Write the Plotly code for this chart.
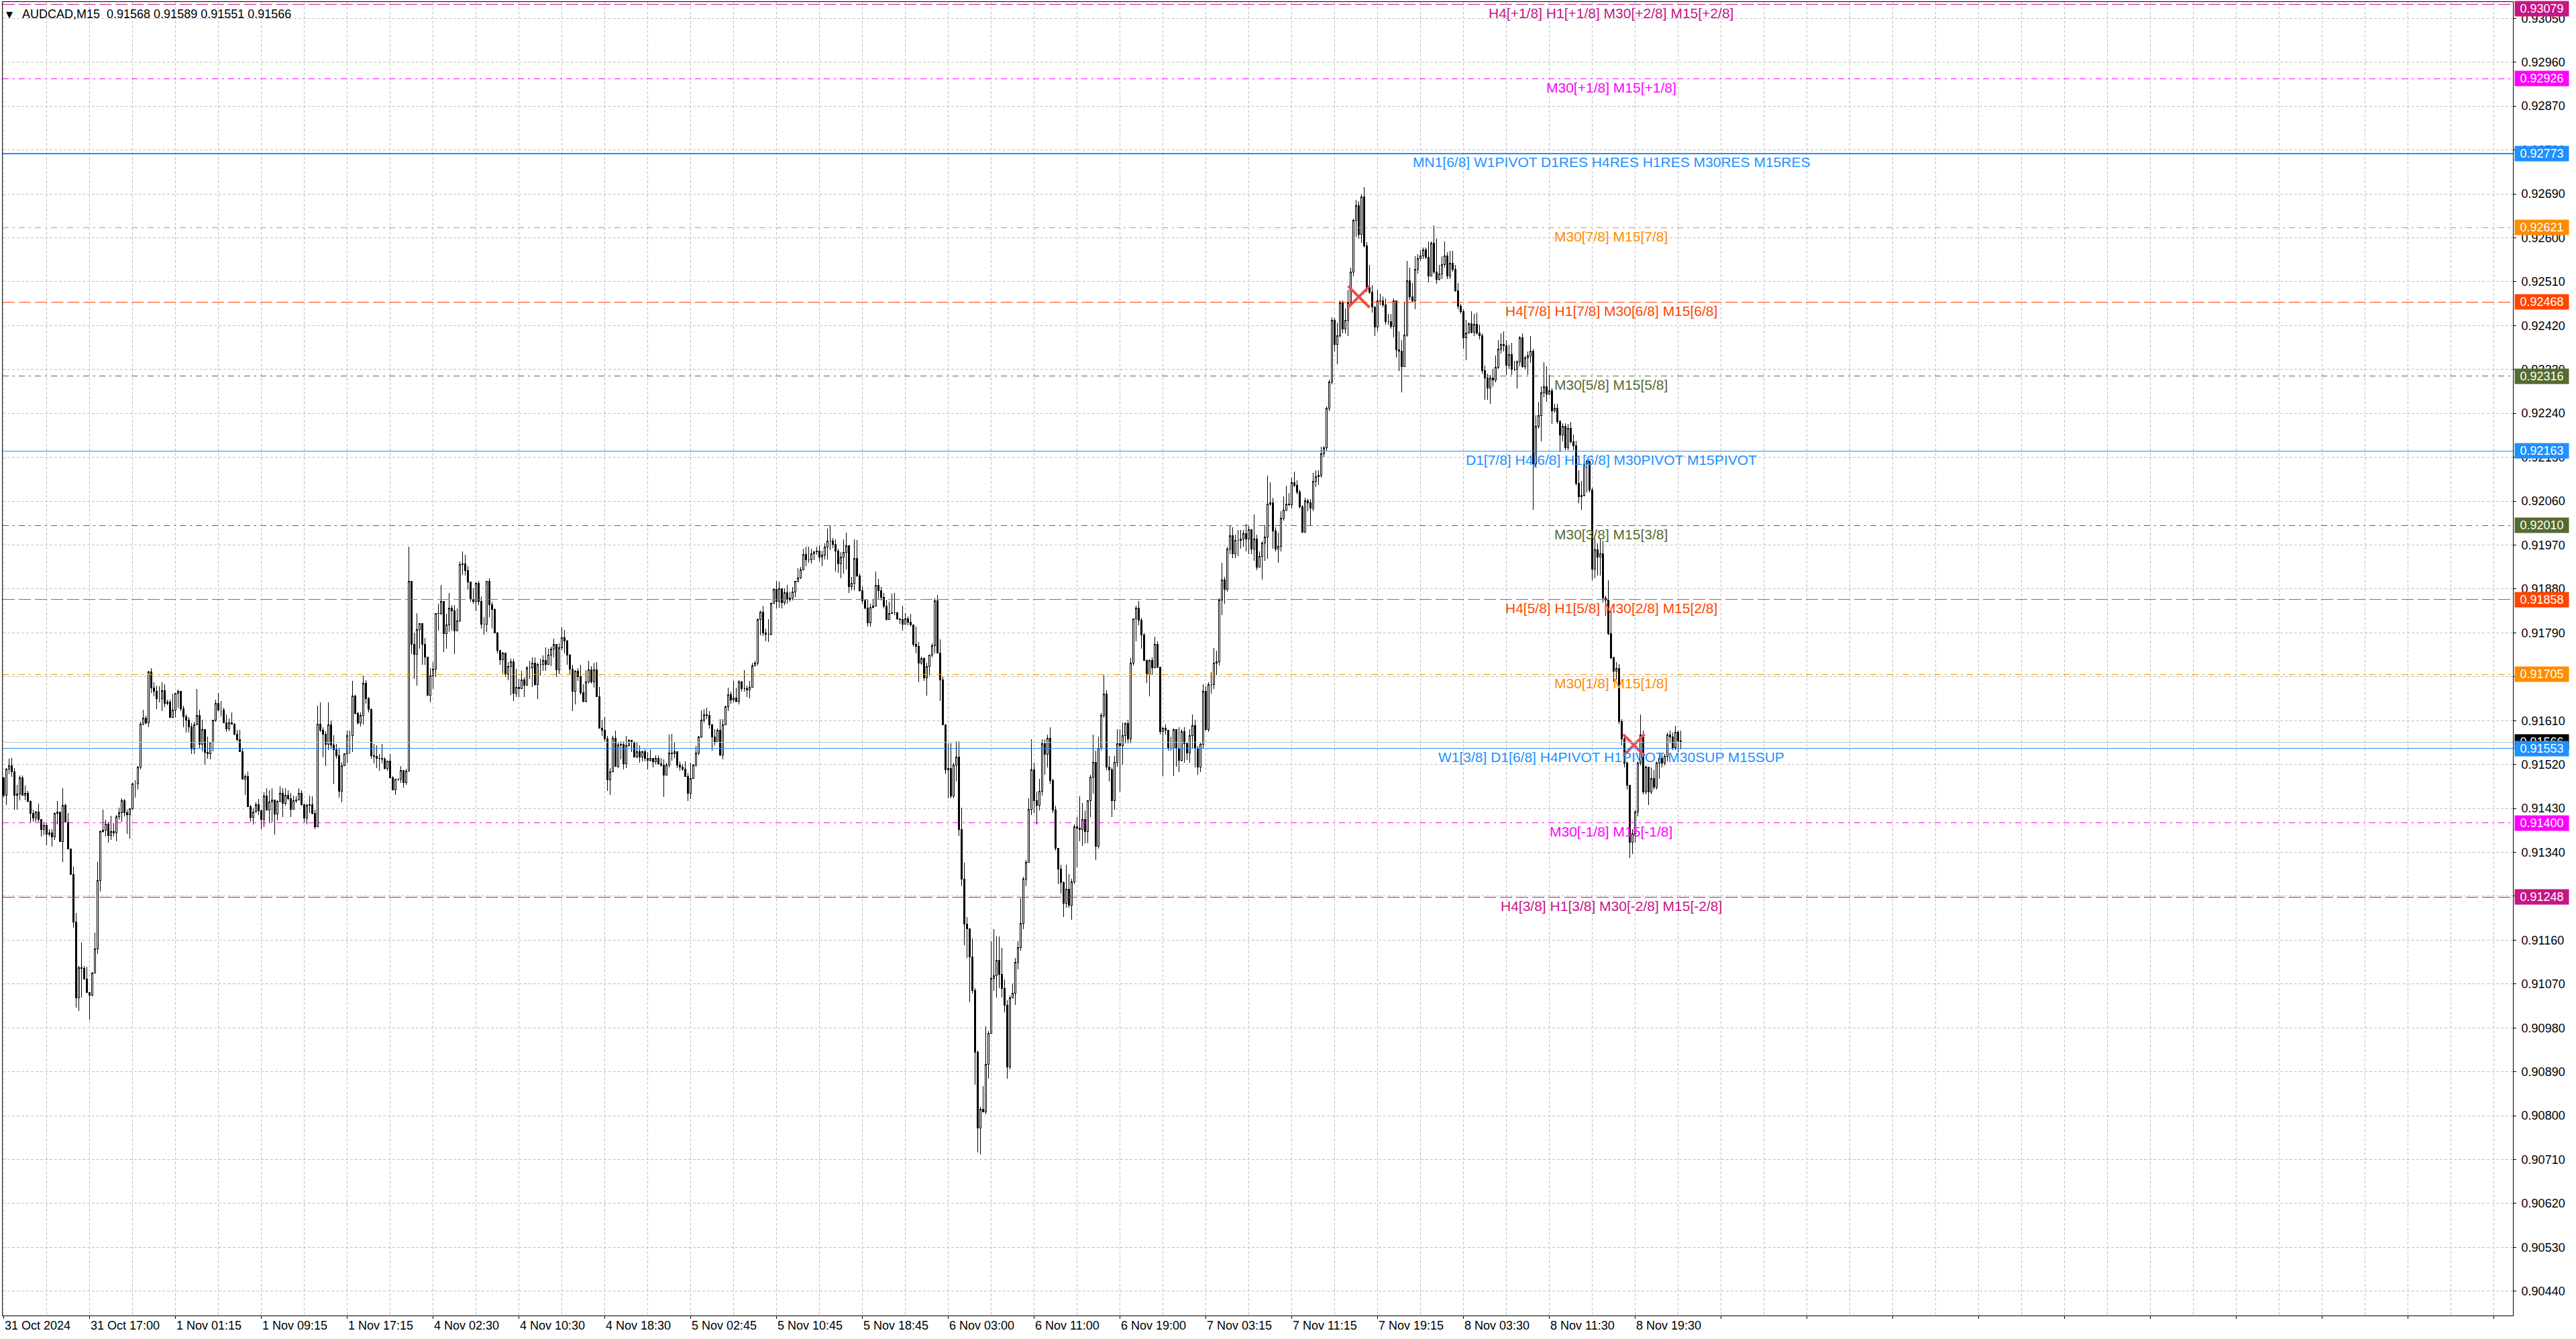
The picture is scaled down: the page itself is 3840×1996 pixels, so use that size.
import plotly.graph_objects as go

# AUDCAD M15 bars, prices kept in points above 0.90000 (1 point = 0.00001)
BASE = 0.9
POINT = 0.00001

first_open = 1492

bar_high = [
    1495, 1512, 1532, 1533, 1512, 1478, 1498, 1498, 1477, 1466, 1447, 1427, 1425, 1440, 1407, 1402,
    1400, 1387, 1387, 1422, 1445, 1420, 1471, 1440, 1420, 1345, 1310, 1215, 1107, 1155, 1107, 1105,
    1052, 1095, 1175, 1320, 1385, 1428, 1407, 1402, 1415, 1400, 1417, 1432, 1451, 1450, 1428, 1430,
    1482, 1488, 1517, 1607, 1632, 1620, 1712, 1717, 1688, 1682, 1680, 1688, 1685, 1653, 1653, 1665,
    1667, 1673, 1670, 1640, 1622, 1617, 1605, 1607, 1675, 1632, 1611, 1592, 1577, 1566, 1612, 1653,
    1667, 1650, 1636, 1622, 1615, 1627, 1605, 1591, 1591, 1552, 1500, 1506, 1437, 1430, 1442, 1450,
    1427, 1463, 1472, 1467, 1472, 1447, 1446, 1475, 1472, 1472, 1467, 1462, 1456, 1455, 1471, 1467,
    1440, 1440, 1456, 1455, 1427, 1640, 1647, 1597, 1588, 1648, 1610, 1580, 1562, 1552, 1525, 1543,
    1590, 1590, 1691, 1662, 1628, 1627, 1702, 1693, 1658, 1635, 1562, 1560, 1541, 1562, 1535, 1528,
    1541, 1496, 1491, 1492, 1517, 1507, 1511,
    1966, 1895, 1790, 1831, 1810, 1810, 1780, 1741, 1718, 1730, 1831, 1849, 1888, 1854, 1829, 1872,
    1847, 1847, 1840, 1936, 1957, 1950, 1927, 1895, 1881, 1893, 1896, 1865, 1822, 1896, 1902, 1854,
    1840, 1792, 1755, 1751, 1739, 1730, 1737, 1737, 1716, 1695, 1712, 1698, 1721, 1732, 1739, 1739,
    1728, 1737, 1744, 1760, 1757, 1761, 1778, 1762, 1769, 1802, 1796, 1776, 1746, 1725, 1714, 1718,
    1725, 1684, 1714, 1732, 1721, 1728, 1730, 1679, 1611, 1617, 1578, 1512, 1578, 1590, 1565, 1567,
    1567, 1579, 1572, 1569, 1567, 1565, 1560, 1549, 1551, 1546, 1551, 1533, 1539, 1539, 1533, 1530,
    1523, 1581, 1583, 1565, 1544, 1526, 1521, 1526, 1503, 1523, 1521, 1558, 1578, 1631, 1633, 1636,
    1629, 1604, 1592, 1594, 1613, 1613, 1640, 1677, 1670, 1691, 1677, 1693, 1691, 1714, 1682, 1691,
    1728, 1732, 1819, 1836, 1845, 1799, 1818, 1852, 1881, 1897, 1895, 1879, 1881, 1888, 1874, 1884,
    1895, 1923, 1925, 1962, 1966, 1966, 1962, 1957, 1966, 1969, 1958, 1973, 2003, 2011, 1985, 1982,
    1962, 1955, 1982, 1996, 1959, 1904, 1982, 1980, 1911, 1886, 1858, 1858, 1849, 1858, 1916, 1900,
    1884, 1872, 1858, 1854, 1870, 1871, 1833, 1819, 1845, 1831, 1824, 1829, 1806, 1803, 1771, 1741,
    1739, 1728, 1745, 1769, 1861,
    1867, 1777, 1699, 1602, 1563, 1563, 1524, 1568, 1568, 1431, 1319, 1207, 1183, 1163, 1061, 934,
    818, 861, 983, 973, 1158, 1183, 1168, 1168, 1144, 1080, 1037, 1046, 1071, 1124, 1158, 1246,
    1290, 1324, 1451, 1572, 1524, 1465, 1490, 1572, 1572, 1582, 1597, 1490, 1436, 1348, 1314, 1280,
    1314, 1295, 1285, 1397, 1412, 1455, 1441, 1426, 1446, 1499, 1582, 1548, 1577, 1626, 1704, 1672,
    1538, 1514, 1538, 1592, 1592, 1606, 1606, 1611, 1738, 1818, 1845, 1855, 1821, 1789, 1736, 1736,
    1740, 1782, 1772, 1720, 1597, 1602, 1587, 1577, 1594, 1563, 1597, 1592, 1597, 1565, 1592, 1623,
    1611, 1558, 1565, 1684, 1680, 1689, 1709, 1759, 1753, 1860, 1933, 1904, 1967, 2011, 2006, 1991,
    2001, 2001, 2001, 2013, 2009, 1993, 2032, 1991, 1957, 1977, 2011, 2113, 2098, 2067, 2006, 1996,
    2040, 2069, 2091, 2077, 2108, 2120, 2103, 2084, 2052, 2067, 2064, 2064, 2118, 2123, 2123, 2171,
    2173, 2254, 2309, 2437, 2435, 2426, 2471, 2471, 2455, 2494, 2539, 2639, 2677, 2675, 2688, 2704,
    2591, 2544, 2503, 2453, 2494, 2485, 2480, 2476, 2444, 2444, 2476, 2471, 2408, 2390, 2467, 2553,
    2539, 2507, 2562, 2566, 2575, 2580, 2580, 2593, 2593, 2625, 2598, 2544, 2562, 2593, 2571, 2573,
    2573, 2544, 2507, 2464, 2453, 2431, 2426, 2449, 2444, 2446, 2422, 2404, 2338, 2322, 2318, 2331,
    2358, 2390, 2404, 2408, 2390, 2381, 2385, 2347, 2349, 2399, 2404, 2358, 2367, 2399, 2372, 2236,
    2263, 2295, 2345, 2336, 2318, 2291, 2259, 2259, 2227, 2220, 2220, 2218, 2223, 2196, 2184, 2123,
    2101, 2155, 2146, 2096, 2087, 1983, 1974, 1982, 1979, 1866, 1898, 1839, 1741, 1730, 1726, 1613,
    1581, 1527, 1477, 1387, 1428, 1527, 1622, 1590, 1518, 1514, 1514, 1509, 1527, 1541, 1541, 1541,
    1586, 1590, 1586, 1599, 1590, 1589,
]

bar_low = [
    1452, 1437, 1500, 1495, 1428, 1428, 1447, 1457, 1447, 1443, 1400, 1402, 1402, 1402, 1372, 1375,
    1355, 1372, 1352, 1365, 1397, 1362, 1320, 1402, 1347, 1295, 1185, 1022, 1015, 1042, 1080, 1052,
    997, 1045, 1092, 1132, 1260, 1380, 1372, 1360, 1365, 1372, 1362, 1407, 1402, 1414, 1378, 1368,
    1428, 1452, 1468, 1510, 1600, 1602, 1596, 1667, 1660, 1633, 1647, 1630, 1638, 1642, 1616, 1617,
    1617, 1637, 1630, 1597, 1585, 1585, 1542, 1542, 1600, 1552, 1547, 1520, 1532, 1530, 1547, 1608,
    1630, 1618, 1605, 1587, 1588, 1602, 1580, 1568, 1545, 1490, 1457, 1434, 1402, 1397, 1422, 1417,
    1387, 1392, 1427, 1400, 1402, 1377, 1405, 1442, 1412, 1436, 1447, 1412, 1428, 1441, 1446, 1436,
    1400, 1397, 1420, 1418, 1388, 1480, 1587, 1535, 1517, 1550, 1552, 1480, 1532, 1452, 1442, 1517,
    1523, 1542, 1545, 1622, 1602, 1598, 1602, 1645, 1627, 1532, 1522, 1512, 1507, 1522, 1510, 1507,
    1492, 1467, 1457, 1487, 1483, 1473, 1478,
    1895, 1746, 1695, 1682, 1757, 1725, 1725, 1661, 1647, 1675, 1700, 1794, 1826, 1751, 1757, 1792,
    1794, 1746, 1794, 1812, 1909, 1907, 1879, 1854, 1849, 1835, 1847, 1799, 1787, 1792, 1822, 1799,
    1790, 1748, 1725, 1707, 1700, 1693, 1663, 1650, 1659, 1659, 1675, 1659, 1682, 1695, 1679, 1682,
    1654, 1702, 1712, 1712, 1730, 1721, 1739, 1700, 1705, 1755, 1748, 1725, 1705, 1629, 1643, 1691,
    1663, 1647, 1647, 1686, 1686, 1677, 1659, 1594, 1578, 1567, 1466, 1457, 1505, 1516, 1512, 1530,
    1510, 1512, 1557, 1546, 1535, 1533, 1523, 1526, 1526, 1510, 1526, 1514, 1521, 1519, 1516, 1454,
    1514, 1514, 1528, 1533, 1512, 1507, 1507, 1496, 1445, 1450, 1491, 1516, 1539, 1574, 1606, 1613,
    1594, 1549, 1560, 1565, 1537, 1530, 1601, 1629, 1645, 1647, 1647, 1643, 1670, 1670, 1659, 1656,
    1677, 1721, 1723, 1785, 1783, 1773, 1771, 1785, 1849, 1840, 1842, 1840, 1847, 1849, 1854, 1856,
    1863, 1893, 1900, 1918, 1927, 1934, 1932, 1939, 1950, 1936, 1927, 1941, 1941, 1959, 1964, 1916,
    1913, 1902, 1911, 1920, 1872, 1877, 1877, 1904, 1874, 1849, 1838, 1803, 1803, 1840, 1845, 1858,
    1856, 1840, 1815, 1817, 1829, 1826, 1817, 1808, 1794, 1810, 1805, 1803, 1762, 1748, 1689, 1725,
    1691, 1661, 1702, 1739, 1748,
    1748, 1650, 1602, 1500, 1451, 1451, 1451, 1485, 1373, 1270, 1149, 1124, 1032, 1051, 863, 725,
    720, 808, 803, 876, 1030, 1056, 1042, 1061, 1042, 1012, 876, 895, 1042, 1027, 1100, 1139,
    1183, 1270, 1319, 1417, 1421, 1397, 1426, 1456, 1499, 1514, 1480, 1421, 1343, 1275, 1256, 1207,
    1227, 1227, 1202, 1275, 1309, 1363, 1353, 1358, 1358, 1412, 1460, 1324, 1348, 1548, 1616, 1509,
    1485, 1412, 1428, 1516, 1465, 1519, 1563, 1563, 1563, 1723, 1772, 1806, 1757, 1733, 1687, 1660,
    1704, 1718, 1718, 1582, 1496, 1582, 1548, 1548, 1496, 1516, 1504, 1526, 1524, 1529, 1524, 1553,
    1514, 1499, 1504, 1553, 1590, 1587, 1665, 1675, 1704, 1723, 1826, 1850, 1874, 1952, 1943, 1943,
    1947, 1962, 1967, 1957, 1952, 1952, 1938, 1918, 1928, 1899, 1938, 1942, 2050, 1962, 1957, 1933,
    1957, 2020, 2040, 2050, 2045, 2089, 2074, 2045, 1996, 1996, 2040, 2011, 2040, 2089, 2093, 2108,
    2151, 2162, 2245, 2300, 2367, 2340, 2395, 2404, 2404, 2399, 2462, 2521, 2602, 2598, 2589, 2580,
    2489, 2485, 2446, 2399, 2408, 2462, 2458, 2422, 2422, 2413, 2395, 2354, 2327, 2283, 2336, 2397,
    2473, 2467, 2453, 2526, 2553, 2557, 2557, 2509, 2521, 2526, 2506, 2512, 2515, 2539, 2516, 2516,
    2530, 2489, 2453, 2444, 2372, 2349, 2404, 2404, 2399, 2401, 2392, 2322, 2268, 2268, 2259, 2295,
    2304, 2331, 2363, 2367, 2318, 2331, 2318, 2327, 2291, 2336, 2334, 2331, 2318, 2343, 2042, 2132,
    2209, 2182, 2273, 2264, 2277, 2218, 2241, 2218, 2160, 2182, 2164, 2164, 2178, 2164, 2092, 2056,
    2042, 2069, 2078, 2078, 1898, 1902, 1907, 1907, 1852, 1825, 1785, 1735, 1690, 1694, 1604, 1559,
    1514, 1468, 1328, 1337, 1360, 1414, 1518, 1459, 1459, 1437, 1459, 1468, 1468, 1491, 1514, 1518,
    1527, 1563, 1550, 1550, 1545, 1551,
]

bar_close = [
    1457, 1510, 1518, 1505, 1457, 1460, 1492, 1457, 1461, 1445, 1420, 1410, 1422, 1407, 1387, 1395,
    1377, 1380, 1372, 1420, 1422, 1362, 1436, 1402, 1347, 1295, 1197, 1042, 1103, 1102, 1080, 1052,
    1047, 1093, 1142, 1282, 1382, 1385, 1398, 1375, 1382, 1380, 1413, 1421, 1446, 1421, 1417, 1430,
    1480, 1480, 1515, 1603, 1615, 1605, 1710, 1677, 1670, 1655, 1655, 1671, 1645, 1648, 1617, 1632,
    1666, 1670, 1635, 1618, 1611, 1597, 1552, 1602, 1621, 1562, 1592, 1545, 1542, 1565, 1611, 1646,
    1632, 1632, 1606, 1593, 1606, 1603, 1582, 1571, 1546, 1490, 1496, 1434, 1412, 1422, 1438, 1425,
    1407, 1455, 1427, 1443, 1447, 1418, 1445, 1461, 1440, 1457, 1450, 1428, 1446, 1447, 1461, 1437,
    1410, 1436, 1437, 1420, 1392, 1603, 1590, 1582, 1562, 1601, 1560, 1550, 1538, 1465, 1517, 1542,
    1580, 1580, 1660, 1625, 1605, 1620, 1687, 1655, 1633, 1538, 1536, 1533, 1532, 1531, 1512, 1527,
    1493, 1468, 1490, 1490, 1508, 1483, 1507,
    1896, 1767, 1746, 1796, 1809, 1767, 1740, 1662, 1702, 1716, 1829, 1830, 1854, 1789, 1806, 1840,
    1835, 1794, 1815, 1930, 1932, 1918, 1894, 1858, 1854, 1891, 1854, 1807, 1807, 1895, 1848, 1838,
    1790, 1754, 1735, 1748, 1705, 1721, 1730, 1666, 1679, 1675, 1693, 1682, 1718, 1718, 1728, 1684,
    1725, 1725, 1734, 1725, 1745, 1757, 1767, 1714, 1760, 1780, 1773, 1745, 1716, 1670, 1712, 1700,
    1667, 1650, 1689, 1714, 1689, 1714, 1659, 1594, 1590, 1572, 1489, 1505, 1574, 1516, 1560, 1562,
    1521, 1558, 1569, 1565, 1535, 1546, 1535, 1546, 1533, 1528, 1533, 1526, 1533, 1521, 1519, 1498,
    1519, 1544, 1542, 1546, 1519, 1514, 1510, 1496, 1461, 1491, 1519, 1544, 1576, 1611, 1622, 1620,
    1601, 1576, 1565, 1590, 1539, 1601, 1638, 1663, 1652, 1656, 1650, 1689, 1675, 1675, 1673, 1679,
    1723, 1728, 1817, 1833, 1790, 1787, 1787, 1850, 1879, 1854, 1881, 1852, 1872, 1859, 1861, 1873,
    1895, 1902, 1919, 1951, 1940, 1940, 1952, 1956, 1957, 1945, 1950, 1966, 1978, 1978, 1972, 1957,
    1932, 1945, 1955, 1969, 1884, 1891, 1942, 1907, 1877, 1856, 1840, 1810, 1842, 1845, 1888, 1877,
    1863, 1845, 1817, 1829, 1831, 1831, 1818, 1817, 1808, 1818, 1812, 1806, 1767, 1762, 1728, 1737,
    1698, 1721, 1744, 1764, 1856,
    1748, 1694, 1602, 1509, 1512, 1455, 1519, 1535, 1387, 1285, 1193, 1183, 1126, 1056, 930, 774,
    813, 808, 905, 969, 1081, 1087, 1119, 1090, 1061, 1027, 900, 1042, 1051, 1115, 1144, 1194,
    1285, 1319, 1428, 1509, 1446, 1436, 1465, 1563, 1541, 1574, 1487, 1426, 1348, 1305, 1278, 1236,
    1265, 1231, 1280, 1392, 1389, 1387, 1407, 1382, 1446, 1494, 1524, 1353, 1553, 1621, 1665, 1514,
    1509, 1446, 1524, 1563, 1558, 1580, 1604, 1572, 1728, 1818, 1840, 1816, 1785, 1733, 1704, 1733,
    1718, 1767, 1720, 1587, 1594, 1590, 1553, 1553, 1592, 1553, 1529, 1587, 1563, 1543, 1580, 1600,
    1553, 1514, 1561, 1670, 1592, 1684, 1684, 1728, 1730, 1857, 1899, 1879, 1962, 1989, 1952, 1980,
    1980, 1983, 1993, 1983, 2001, 1962, 1983, 1925, 1947, 1974, 1986, 2054, 2056, 1999, 1962, 1967,
    2025, 2042, 2054, 2052, 2098, 2093, 2079, 2048, 1996, 2061, 2057, 2045, 2100, 2110, 2113, 2157,
    2169, 2250, 2304, 2431, 2381, 2399, 2467, 2413, 2431, 2467, 2530, 2636, 2666, 2607, 2684, 2584,
    2498, 2489, 2458, 2417, 2471, 2470, 2462, 2428, 2428, 2419, 2471, 2370, 2367, 2336, 2401, 2512,
    2479, 2470, 2535, 2557, 2563, 2575, 2560, 2521, 2589, 2530, 2515, 2526, 2545, 2563, 2521, 2548,
    2535, 2491, 2460, 2449, 2395, 2404, 2424, 2406, 2422, 2404, 2399, 2327, 2313, 2292, 2313, 2309,
    2334, 2372, 2381, 2379, 2338, 2361, 2331, 2331, 2345, 2395, 2336, 2354, 2358, 2367, 2137, 2214,
    2236, 2282, 2295, 2280, 2286, 2245, 2250, 2223, 2196, 2214, 2169, 2209, 2182, 2173, 2096, 2069,
    2072, 2137, 2142, 2083, 1920, 1961, 1945, 1952, 1861, 1857, 1789, 1739, 1712, 1717, 1608, 1572,
    1523, 1477, 1360, 1378, 1423, 1523, 1581, 1464, 1514, 1464, 1491, 1473, 1523, 1532, 1523, 1536,
    1581, 1577, 1554, 1586, 1568, 1566,
]

# one label every 32 bars
time_labels = [
    "31 Oct 2024", "31 Oct 17:00", "1 Nov 01:15", "1 Nov 09:15", "1 Nov 17:15",
    "4 Nov 02:30", "4 Nov 10:30", "4 Nov 18:30", "5 Nov 02:45", "5 Nov 10:45",
    "5 Nov 18:45", "6 Nov 03:00", "6 Nov 11:00", "6 Nov 19:00", "7 Nov 03:15",
    "7 Nov 11:15", "7 Nov 19:15", "8 Nov 03:30", "8 Nov 11:30", "8 Nov 19:30",
]

level_prices = [0.93079, 0.92926, 0.92773, 0.92621, 0.92468, 0.92316, 0.92163,
                0.92010, 0.91858, 0.91705, 0.91553, 0.91400, 0.91248]
level_names = [
    "H4[+1/8] H1[+1/8] M30[+2/8] M15[+2/8]",
    "M30[+1/8] M15[+1/8]",
    "MN1[6/8] W1PIVOT D1RES H4RES H1RES M30RES M15RES",
    "M30[7/8] M15[7/8]",
    "H4[7/8] H1[7/8] M30[6/8] M15[6/8]",
    "M30[5/8] M15[5/8]",
    "D1[7/8] H4[6/8] H1[6/8] M30PIVOT M15PIVOT",
    "M30[3/8] M15[3/8]",
    "H4[5/8] H1[5/8] M30[2/8] M15[2/8]",
    "M30[1/8] M15[1/8]",
    "W1[3/8] D1[6/8] H4PIVOT H1PIVOT M30SUP M15SUP",
    "M30[-1/8] M15[-1/8]",
    "H4[3/8] H1[3/8] M30[-2/8] M15[-2/8]",
]

bid_price = 0.91566
cross_bars = [505, 607.5]
cross_prices = [0.92479, 0.91560]

# ---- styles ----
DASH = "18px,6px"
DASHDOT = "9px,6px,3px,6px"
level_look = [
    ("#C71585", DASH, 1), ("#FF00FF", DASHDOT, 1), ("#1E90FF", "solid", 2),
    ("#FF8C00", DASHDOT, 1), ("#FF4500", DASH, 1), ("#556B2F", DASHDOT, 1),
    ("#1E90FF", "solid", 1), ("#556B2F", DASHDOT, 1), ("#FF4500", DASH, 1),
    ("#FF8C00", DASHDOT, 1), ("#1E90FF", "solid", 1), ("#FF00FF", DASHDOT, 1),
    ("#C71585", DASH, 1),
]
GRID = "#C0C0C0"
FONT = "Liberation Sans"
W, H = 3840, 1996
M_L, M_R, M_T, M_B = 4, 94, 3, 35
Y_MIN, Y_MAX = 0.903902, 0.930834
X_MIN, X_MAX = -0.375, 935.1
BOX_H = 20


def to_price(v):
    return round(BASE + v * POINT, 5)


opens = [first_open] + bar_close[:-1]
o = [to_price(v) for v in opens]
c = [to_price(v) for v in bar_close]
h = [max(to_price(a), oo, cc) for a, oo, cc in zip(bar_high, o, c)]
l = [min(to_price(a), oo, cc) for a, oo, cc in zip(bar_low, o, c)]
x = list(range(len(bar_close)))

fig = go.Figure()
fig.add_trace(go.Candlestick(
    x=x, open=o, high=h, low=l, close=c,
    increasing=dict(line=dict(color="black", width=1), fillcolor="white"),
    decreasing=dict(line=dict(color="black", width=1), fillcolor="black"),
    whiskerwidth=0,
    showlegend=False,
    hoverinfo="skip",
))

fig.add_trace(go.Scatter(
    x=cross_bars, y=cross_prices, mode="markers",
    marker=dict(symbol="x-thin", size=32, line=dict(color="#EE4B4B", width=4)),
    showlegend=False, hoverinfo="skip",
))

shapes = []
annotations = []

# bid line
shapes.append(dict(type="line", xref="paper", x0=0, x1=1, yref="y", y0=bid_price, y1=bid_price,
                   line=dict(color="#C0C0C0", width=1)))

for price, name, (color, dash, width) in zip(level_prices, level_names, level_look):
    shapes.append(dict(type="line", xref="paper", x0=0, x1=1, yref="y", y0=price, y1=price,
                       line=dict(color=color, width=width, dash=dash)))
    annotations.append(dict(x=599, y=price, xref="x", yref="y", text=name, showarrow=False,
                            xanchor="center", yanchor="middle", yshift=-13,
                            font=dict(family=FONT, size=21, color=color)))

plot_h = H - M_T - M_B


def price_box(price, color):
    # price tag on the right scale, kept inside the chart window
    frac = (price - Y_MIN) / (Y_MAX - Y_MIN)
    top_limit = 1 - (BOX_H / 2 + 0.5) / plot_h
    frac = min(frac, top_limit)
    return dict(x=1, xref="paper", y=frac, yref="paper", text=f"{price:.5f}", showarrow=False,
                xanchor="left", yanchor="middle", xshift=2,
                width=78, height=BOX_H, bgcolor=color, borderpad=1,
                font=dict(family=FONT, size=18, color="white"))


annotations.append(price_box(bid_price, "black"))
for price, (color, dash, width) in zip(level_prices, level_look):
    annotations.append(price_box(price, color))

# time labels, left aligned on their tick
for i, lab in enumerate(time_labels):
    annotations.append(dict(x=i * 32, xref="x", y=0, yref="paper", text=lab, showarrow=False,
                            xanchor="left", yanchor="top", yshift=-3, xshift=-1,
                            font=dict(family=FONT, size=18, color="black")))

# header
annotations.append(dict(x=0, xref="paper", y=1, yref="paper", text="▼", showarrow=False,
                        xanchor="left", yanchor="top", xshift=3, yshift=-9,
                        font=dict(family="DejaVu Sans", size=13, color="black")))
annotations.append(dict(x=0, xref="paper", y=1, yref="paper",
                        text="AUDCAD,M15  0.91568 0.91589 0.91551 0.91566", showarrow=False,
                        xanchor="left", yanchor="top", xshift=27, yshift=-6,
                        font=dict(family=FONT, size=18, color="black")))

fig.update_layout(
    width=W, height=H,
    margin=dict(l=M_L, r=M_R, t=M_T, b=M_B),
    paper_bgcolor="white", plot_bgcolor="white",
    shapes=shapes, annotations=annotations,
    showlegend=False,
    xaxis=dict(
        range=[X_MIN, X_MAX], tick0=0, dtick=32,
        ticks="outside", ticklen=4, tickcolor="black", showticklabels=False,
        showgrid=True, gridcolor=GRID, griddash="4px,3px", gridwidth=1,
        minor=dict(tick0=0, dtick=16, showgrid=True, gridcolor=GRID, griddash="4px,3px", ticks=""),
        showline=True, linecolor="black", linewidth=1, mirror=True,
        zeroline=False, rangeslider=dict(visible=False), fixedrange=True,
    ),
    yaxis=dict(
        range=[Y_MIN, Y_MAX], side="right", tick0=0.9044, dtick=0.0009, tickformat=".5f",
        ticks="outside", ticklen=4, tickcolor="black", ticklabelstandoff=4,
        tickfont=dict(family=FONT, size=18, color="black"),
        showgrid=True, gridcolor=GRID, griddash="4px,3px", gridwidth=1,
        showline=True, linecolor="black", linewidth=1, mirror=True,
        zeroline=False, fixedrange=True,
    ),
)

# page without the default body margin, and crisp one-pixel lines like the terminal
page_js = (
    "document.body.style.margin='0';document.body.style.overflow='hidden';"
    "var gd=document.getElementById('{plot_id}');"
    "gd.querySelectorAll('.boxlayer path, .gridlayer path, .minor-gridlayer path, .shapelayer path')"
    ".forEach(function(p){p.style.shapeRendering='crispEdges';});"
)
fig.write_html("out.html", post_script=page_js, config={"displayModeBar": False})
